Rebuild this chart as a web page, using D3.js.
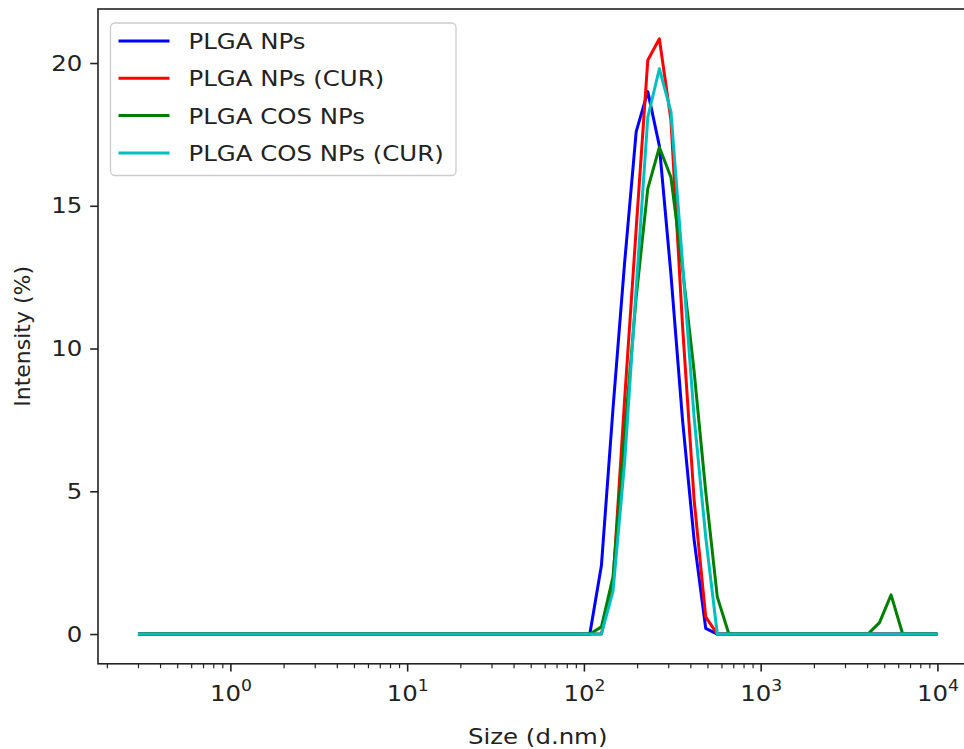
<!DOCTYPE html>
<html>
<head>
<meta charset="utf-8">
<script src="https://cdn.jsdelivr.net/npm/d3@7"></script>
<style>
  body { margin: 0; background: #fff; }
  text { font-family: "DejaVu Sans", sans-serif; fill: #222; }
</style>
</head>
<body>
<div id="chart"></div>
<script>
const w = 964
const h = 749
// the reference text is a little wider than it is tall
const stretch = 'scale(1.11, 1)'

// DLS size bins (d.nm) that carry the curves, shared by all series
const sizes = [0.3, 108.0, 125.6, 146.1, 169.9, 197.6, 229.8, 267.2, 310.7, 361.3,
    420.2, 488.7, 568.3, 660.8, 4044, 4701, 5467, 6358, 10000]

const plgaNPs = [0, 0, 2.4, 7.9, 13.0, 17.6, 19.0, 17.1, 12.6, 7.5, 3.3, 0.2, 0, 0, 0, 0, 0, 0, 0]
const plgaNPsCur = [0, 0, 0, 1.8, 8.2, 14.2, 20.1, 20.85, 18.0, 10.8, 4.7, 0.6, 0, 0, 0, 0, 0, 0, 0]
const plgaCosNPs = [0, 0, 0.25, 2.0, 7.0, 11.8, 15.6, 17.05, 16.0, 12.8, 9.2, 5.0, 1.3, 0, 0, 0.4, 1.37, 0, 0]
const plgaCosNPsCur = [0, 0, 0, 1.5, 6.0, 12.1, 18.1, 19.8, 18.3, 13.0, 7.6, 3.4, 0, 0, 0, 0, 0, 0, 0]

const seriesNames = ['PLGA NPs', 'PLGA NPs (CUR)', 'PLGA COS NPs', 'PLGA COS NPs (CUR)']
const seriesColors = ['#0000ff', '#ff0000', '#008000', '#00bfbf']
const seriesValues = [plgaNPs, plgaNPsCur, plgaCosNPs, plgaCosNPsCur]

const xTicks = [1, 10, 100, 1000, 10000]
const yTicks = [0, 5, 10, 15, 20]

const pLeft = 98, pRight = 977.4, pTop = 9, pBottom = 663.8

const svg = d3.select('#chart')
    .append('svg')
    .attr('width', w)
    .attr('height', h)

// matplotlib-like 5% margins in log space
const xSpan = sizes[sizes.length - 1] / sizes[0]
const xScale = d3.scaleLog()
    .domain([sizes[0] / Math.pow(xSpan, 0.05), sizes[sizes.length - 1] * Math.pow(xSpan, 0.05)])
    .range([pLeft, pRight])

const yMax = d3.max(seriesValues, s => d3.max(s))
const yScale = d3.scaleLinear()
    .domain([-0.05 * yMax, yMax * 1.05])
    .range([pBottom, pTop])

// minor ticks on the log axis
const minorTicks = []
for (let e = -1; e <= 4; e++) {
    for (let m = 2; m <= 9; m++) {
        const v = m * Math.pow(10, e)
        if (v > xScale.domain()[0] && v < xScale.domain()[1]) minorTicks.push(v)
    }
}

svg.append('g')
    .attr('transform', `translate(0, ${pBottom})`)
    .call(d3.axisBottom(xScale).tickValues(minorTicks).tickSize(4.4).tickSizeOuter(0).tickFormat(''))
    .call(g => g.select('.domain').remove())
    .call(g => g.selectAll('line').attr('stroke', '#222').attr('stroke-width', 1.2))

const xAxis = svg.append('g')
    .attr('transform', `translate(0, ${pBottom})`)
    .call(d3.axisBottom(xScale).tickValues(xTicks).tickSize(7.8).tickSizeOuter(0).tickFormat(''))
    .call(g => g.select('.domain').remove())
    .call(g => g.selectAll('line').attr('stroke', '#222').attr('stroke-width', 1.6))

xAxis.selectAll('.tick text').remove()
xAxis.selectAll('.tick')
    .append('text')
    .attr('y', 37)
    .attr('transform', stretch)
    .attr('text-anchor', 'middle')
    .style('font-size', '22px')
    .each(function (d) {
        const t = d3.select(this)
        t.append('tspan').text('10')
        t.append('tspan')
            .attr('dy', -10)
            .style('font-size', '15.5px')
            .text(Math.round(Math.log10(d)))
    })

svg.append('g')
    .attr('transform', `translate(${pLeft}, 0)`)
    .call(d3.axisLeft(yScale).tickValues(yTicks).tickSize(7.8).tickSizeOuter(0).tickPadding(7.8))
    .call(g => g.select('.domain').remove())
    .call(g => g.selectAll('line').attr('stroke', '#222').attr('stroke-width', 1.6))
    .call(g => g.selectAll('text')
        .attr('x', 0)
        .attr('transform', 'translate(-15.6, 0) ' + stretch)
        .style('font-size', '22px')
        .attr('fill', '#222'))

// data lines
const line = d3.line()
    .x((d, i) => xScale(sizes[i]))
    .y(d => yScale(d))

svg.append('g')
    .selectAll('path')
    .data(seriesValues)
    .enter()
    .append('path')
    .attr('d', d => line(d))
    .attr('fill', 'none')
    .attr('stroke', (d, i) => seriesColors[i])
    .attr('stroke-width', 3)
    .attr('stroke-linejoin', 'round')

// spines
svg.append('rect')
    .attr('x', pLeft)
    .attr('y', pTop)
    .attr('width', pRight - pLeft)
    .attr('height', pBottom - pTop)
    .attr('fill', 'none')
    .attr('stroke', '#222')
    .attr('stroke-width', 1.6)

// axis titles
svg.append('text')
    .attr('transform', `translate(${(pLeft + pRight) / 2}, 744) ${stretch}`)
    .attr('text-anchor', 'middle')
    .style('font-size', '22px')
    .text('Size (d.nm)')

svg.append('text')
    .attr('transform', `translate(30, ${(pTop + pBottom) / 2}) rotate(-90)`)
    .attr('text-anchor', 'middle')
    .style('font-size', '22px')
    .text('Intensity (%)')

// legend
const legend = svg.append('g')
legend.append('rect')
    .attr('x', 110.5)
    .attr('y', 23)
    .attr('width', 345.5)
    .attr('height', 152.5)
    .attr('rx', 4.5)
    .attr('fill', 'rgba(255,255,255,0.8)')
    .attr('stroke', '#cccccc')
    .attr('stroke-width', 1.3)

const items = legend.selectAll('.item')
    .data(seriesNames)
    .enter()
    .append('g')
    .attr('transform', (d, i) => `translate(0, ${41 + i * 37.3})`)

items.append('line')
    .attr('x1', 118.5)
    .attr('x2', 169.5)
    .attr('stroke', (d, i) => seriesColors[i])
    .attr('stroke-width', 3)

items.append('text')
    .attr('transform', 'translate(188.5, 0) ' + stretch)
    .attr('dy', '0.36em')
    .style('font-size', '22px')
    .text(d => d)
</script>
</body>
</html>
